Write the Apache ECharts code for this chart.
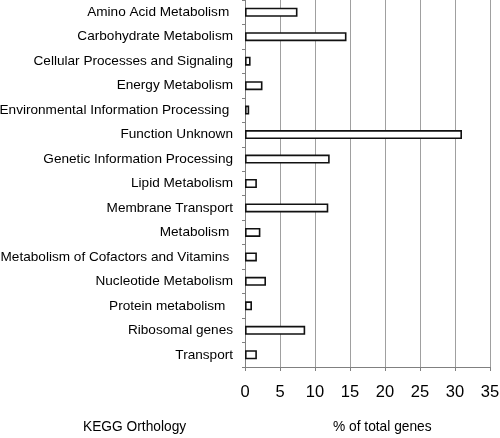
<!DOCTYPE html>
<html><head><meta charset="utf-8">
<script src="https://cdn.jsdelivr.net/npm/echarts@6/dist/echarts.min.js"></script>
<style>html,body{margin:0;padding:0;background:#fff}#c{width:500px;height:438px}</style>
</head><body><div id="c"></div>
<script>
var categories = ["Amino Acid Metabolism ", "Carbohydrate Metabolism", "Cellular Processes and Signaling", "Energy Metabolism", "Environmental Information Processing ", "Function Unknown", "Genetic Information Processing", "Lipid Metabolism", "Membrane Transport", "Metabolism ", "Metabolism of Cofactors and Vitamins ", "Nucleotide Metabolism", "Protein metabolism  ", "Ribosomal genes", "Transport"];
var values = [7.5, 14.5, 0.8, 2.5, 0.6, 31.0, 12.1, 1.7, 11.9, 2.2, 1.7, 3.0, 1.0, 8.6, 1.7];
var xTicks = [0, 5, 10, 15, 20, 25, 30, 35];
var yTitle = "KEGG Orthology";
var xTitle = "% of total genes";

var chart = echarts.init(document.getElementById('c'), null, {renderer: 'canvas'});
var font = 'Liberation Sans, Arial, sans-serif';
chart.setOption({
  animation: false,
  grid: {left: 245, right: 10, top: 0, bottom: 71, containLabel: false, outerBoundsMode: 'none'},
  xAxis: {
    type: 'value', min: xTicks[0], max: xTicks[xTicks.length - 1], interval: 5,
    axisLine: {show: true, lineStyle: {color: '#808080', width: 1}},
    axisTick: {show: true, length: 4, lineStyle: {color: '#808080'}},
    axisLabel: {color: '#000', fontFamily: font, fontSize: 16.5, margin: 17},
    splitLine: {show: true, lineStyle: {color: '#a0a0a0', width: 1}}
  },
  yAxis: {
    type: 'category', data: categories, inverse: true,
    axisLine: {show: true, lineStyle: {color: '#808080', width: 1}},
    axisTick: {show: true, length: 3, lineStyle: {color: '#808080'}},
    axisLabel: {color: '#000', fontFamily: font, fontSize: 13.6, margin: 12},
    splitLine: {show: false}
  },
  series: [{
    type: 'bar', data: values, barWidth: 9,
    itemStyle: {color: '#fff', borderColor: '#111', borderWidth: 1.6}
  }],
  graphic: [
    {type: 'text', left: 83, top: 420, style: {text: yTitle, fill: '#000', font: '13.75px ' + font}},
    {type: 'text', left: 333, top: 420, style: {text: xTitle, fill: '#000', font: '13.75px ' + font}}
  ]
});
</script></body></html>
